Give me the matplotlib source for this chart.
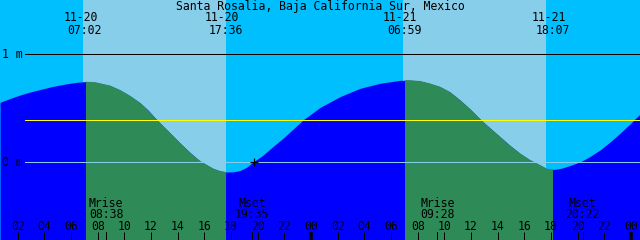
import matplotlib
matplotlib.use("Agg")
import matplotlib.pyplot as plt

# ---- data (hours since 11-20 00:00, metres) ----
title = "Santa Rosalia, Baja California Sur, Mexico"
tide_hours = [0.675, 1.425, 2.175, 2.925, 3.675, 4.425, 5.175, 5.925, 6.525, 7.05,
              7.8, 8.925, 9.675, 10.425, 11.175, 11.775, 12.45, 13.05, 13.425, 14.175,
              14.925, 15.675, 16.65, 17.175, 17.625, 18.15, 18.675, 19.2, 19.65,
              20.325, 20.925, 22.05, 23.4, 24.675, 26.175, 27.675, 29.175, 30.675,
              31.425, 32.175, 32.925, 33.675, 34.425, 35.175, 35.925, 36.75, 37.425,
              38.175, 38.925, 39.675, 40.425, 41.175, 41.775, 42.3, 42.825, 43.425,
              44.175, 44.925, 45.675, 46.425, 47.175, 47.925, 48.675]
tide_m = [0.553, 0.588, 0.620, 0.648, 0.671, 0.694, 0.713, 0.729, 0.739, 0.744,
          0.739, 0.708, 0.667, 0.613, 0.548, 0.481, 0.389, 0.315, 0.269, 0.176,
          0.088, 0.009, -0.060, -0.083, -0.093, -0.091, -0.079, -0.046, 0.000,
          0.056, 0.120, 0.236, 0.389, 0.505, 0.605, 0.682, 0.729, 0.756,
          0.757, 0.750, 0.727, 0.697, 0.648, 0.574, 0.491, 0.389, 0.315,
          0.234, 0.153, 0.080, 0.019, -0.028, -0.068, -0.068, -0.056, -0.032,
          0.000, 0.051, 0.111, 0.185, 0.266, 0.352, 0.444]

sun_hours = [7.033, 17.6, 30.983, 42.117]
sun_dates = ["11-20", "11-20", "11-21", "11-21"]
sun_times = ["07:02", "17:36", "06:59", "18:07"]
sky_day = [(6.9, 17.625), (30.9, 41.63)]
water_day = [(7.125, 17.625), (31.05, 42.15)]

moon_hours = [8.633, 19.583, 33.467, 44.367]
moon_names = ["Mrise", "Mset", "Mrise", "Mset"]
moon_times = ["08:38", "19:35", "09:28", "20:22"]

tick_hours = list(range(2, 49, 2))
msl_m = 0.389
mark_hour, mark_m = 19.725, 0.0

# ---- style ----
C_NIGHT_SKY = "#00bfff"
C_DAY_SKY = "#87ceeb"
C_NIGHT_WATER = "#0000ff"
C_DAY_WATER = "#2e8b57"
FONT = "DejaVu Sans Mono"
FS = 8.3
px = 0.72  # one pixel in points at 100 dpi

fig = plt.figure(figsize=(6.4, 2.4), dpi=100)
ax = fig.add_axes([0, 0, 1, 1])
ax.set_xlim(0.675, 48.675)
ax.set_ylim(-0.7222, 1.5)
ax.set_facecolor(C_NIGHT_SKY)
for s in ax.spines.values():
    s.set_visible(False)
ax.set_xticks([])
ax.set_yticks([])

for a, b in sky_day:
    ax.axvspan(a, b, color=C_DAY_SKY, lw=0, zorder=0.5)

water = ax.fill_between(tide_hours, tide_m, -1, color=C_NIGHT_WATER, lw=0, zorder=1)
clip = water.get_paths()[0]
for a, b in water_day:
    r = ax.axvspan(a, b, color=C_DAY_WATER, lw=0, zorder=1.5)
    r.set_clip_path(clip, ax.transData)

# horizontal reference lines (start after labels)
x0 = 25 / 13.3333 + 0.675
ax.plot([x0, 48.7], [1, 1], color="black", lw=px, zorder=3)
ax.plot([x0, 48.7], [0, 0], color=C_DAY_SKY, lw=px, zorder=3)
ax.plot([x0, 48.7], [msl_m, msl_m], color="yellow", lw=px, zorder=3)

ax.plot([mark_hour], [mark_m], marker="+", color="black", ms=8 * px, mew=1.2 * px, zorder=4)

yb = ax.get_yaxis_transform()
ax.text(2 / 640, 1, "1 m", transform=yb, ha="left", va="center", family=FONT, fontsize=FS)
ax.text(2 / 640, 0, "0 m", transform=yb, ha="left", va="center", family=FONT, fontsize=FS)

ax.text(0.5, 0.960, title, transform=ax.transAxes, ha="center", va="baseline",
        family=FONT, fontsize=FS)

xb = ax.get_xaxis_transform()
for h, d, t in zip(sun_hours, sun_dates, sun_times):
    ax.annotate(d, (h, 0.911), xycoords=xb, xytext=(-4, 0), textcoords="offset pixels",
                ha="center", va="baseline", family=FONT, fontsize=FS)
    ax.text(h, 0.858, t, transform=xb, ha="center", va="baseline", family=FONT, fontsize=FS)

for h, n, t in zip(moon_hours, moon_names, moon_times):
    ax.text(h, 0.139, n, transform=xb, ha="center", va="baseline", family=FONT, fontsize=FS)
    ax.text(h, 0.093, t, transform=xb, ha="center", va="baseline", family=FONT, fontsize=FS)
    ax.plot([h, h], [0, 8 / 240], transform=xb, color="black", lw=px, zorder=4)

for h in tick_hours:
    thick = (h % 24 == 0)
    ax.plot([h, h], [0, 8 / 240], transform=xb, color="black",
            lw=(3.5 if thick else 1) * px, zorder=4, solid_capstyle="butt")
    ax.text(h, 0.0417, f"{h % 24:02d}", transform=xb, ha="center", va="baseline",
            family=FONT, fontsize=FS)

fig.savefig("out.png", dpi=100)
